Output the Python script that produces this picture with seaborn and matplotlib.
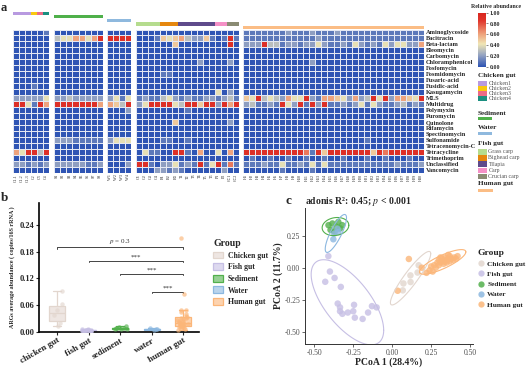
import numpy as np
import pandas as pd
import matplotlib
matplotlib.use('Agg')
import matplotlib.pyplot as plt
import seaborn as sns
from matplotlib.colors import LinearSegmentedColormap, ListedColormap
from matplotlib.patches import Patch, Rectangle
from matplotlib.lines import Line2D

# ---------------- data ----------------
arg_classes = ["Aminoglycoside", "Bacitracin", "Beta-lactam", "Bleomycin", "Carbomycin",
               "Chloramphenicol", "Fosfomycin", "Fosmidomycin", "Fusaric-acid", "Fusidic-acid",
               "Kasugamycin", "MLS", "Multidrug", "Polymyxin", "Puromycin", "Quinolone",
               "Rifamycin", "Spectinomycin", "Sulfonamide", "Tetracenomycin-C", "Tetracycline",
               "Trimethoprim", "Unclassified", "Vancomycin"]

# relative abundance in tenths (digit d -> d/10), one string per ARG class
chicken_abund = ["000001", "000000", "000000", "000000", "000000", "000000", "000000", "000000",
                 "000000", "000100", "000000", "222224", "994196", "000000", "000000", "000000",
                 "000000", "000000", "000000", "000000", "649939", "000000", "221212", "000000"]
sediment_abund = ["00000000", "34466469", "00000000", "00000000", "00000000", "00000000",
                  "00000000", "00000000", "00000000", "00000000", "00000000", "22322222",
                  "99999996", "00000000", "00000000", "00000000", "00000000", "00000000",
                  "22211111", "00000000", "00000000", "00000000", "22222112", "00000000"]
water_abund = ["0000", "9999", "0000", "0000", "0000", "0000", "0000", "0000", "0000", "0000",
               "0000", "2414", "6539", "0002", "0000", "0000", "0000", "0000", "2444", "0000",
               "0000", "0000", "0002", "0000"]
fish_abund = ["00000000000000000", "00015456322510191", "00000050000000090", "00000000000000000",
              "00000000000000000", "00000000002000020", "00000000000000000", "00001100000000000",
              "00000000000000000", "00000000000000000", "00000000000004020", "12113421211221231",
              "24999943995992969", "00000000100000000", "00000000000000000", "00000050000000020",
              "00000000000000000", "00000000000000000", "00001100100000000", "00000000000000000",
              "04110099106004060", "00000000000000000", "99102241219149171", "00022121000000200"]
human_abund = ["11111 11211 12111 21111 11111 11111",
               "11111 11111 11211 11111 11111 11111",
               "22293 31221 22421 12142 12142 44226",
               "00000 00000 00000 00000 00000 00000",
               "00000 00000 00000 00000 00000 00000",
               "00000 00000 02000 00000 00000 00000",
               "00000 00000 00000 00000 00000 00000",
               "00000 00000 00000 00000 00000 00000",
               "00000 00000 00000 00000 00000 00000",
               "00000 00000 00000 00000 00000 00000",
               "00000 00000 00000 00000 00000 00000",
               "54934 32644 92166 54262 39492 66549",
               "23112 19429 19291 12124 14211 23121",
               "00000 00000 00000 00000 00000 00000",
               "00000 00000 00000 00000 00000 00000",
               "00000 00000 00000 00000 00000 00000",
               "00000 00000 00000 00000 00000 00000",
               "00000 00000 00000 00000 00000 00000",
               "00000 00000 00000 00000 10000 00000",
               "00000 00000 00000 00000 00000 00000",
               "99999 99999 71959 99999 95979 99999",
               "01001 00100 10010 01000 10010 00100",
               "11121 14112 14141 11111 11111 21112",
               "00000 01000 01000 00000 00000 00000"]

chicken_samples = ["C1.1", "C1.2", "C1.3", "C2", "C3", "C4"]
sediment_samples = ["S%d" % i for i in range(1, 9)]
water_samples = ["W%d" % i for i in range(1, 5)]
fish_samples = ["G1", "G2", "G3", "G4", "B1", "B2", "B3", "T1", "T2", "T3", "T4", "T5", "T6",
                "P1", "P2", "CC1", "CC2"]
human_samples = ["H%d" % i for i in range(1, 31)]

chicken_sub = ["Chicken1", "Chicken1", "Chicken1", "Chicken2", "Chicken3", "Chicken4"]
fish_sub = ["Grass carp"] * 4 + ["Bighead carp"] * 3 + ["Tilapia"] * 6 + ["Carp"] * 2 + ["Crucian carp"] * 2

sub_colors = {"Chicken1": "#B89AE0", "Chicken2": "#F9C80E", "Chicken3": "#EC6A86",
              "Chicken4": "#1B8F80", "Sediment": "#4FB04A", "Water": "#8FB9DE",
              "Grass carp": "#B5DC8E", "Bighead carp": "#E5870E", "Tilapia": "#5F4B8B",
              "Carp": "#F590C6", "Crucian carp": "#8A8B73", "Human gut": "#FBBD85"}

# panel b: ARGs average abundance per sample
groups_b = ["chicken gut", "fish gut", "sediment", "water", "human gut"]
chicken_arg = [0.012, 0.020, 0.038, 0.048, 0.062, 0.092]
fish_arg = [0.001, 0.002, 0.002, 0.003, 0.003, 0.003, 0.004, 0.004, 0.002, 0.001, 0.005,
            0.003, 0.002, 0.004, 0.003, 0.002, 0.006]
sediment_arg = [0.006, 0.007, 0.008, 0.008, 0.009, 0.010, 0.012, 0.007]
water_arg = [0.004, 0.005, 0.006, 0.008]
human_arg = [0.004, 0.006, 0.008, 0.009, 0.010, 0.011, 0.012, 0.013, 0.015, 0.016, 0.017,
             0.018, 0.019, 0.020, 0.020, 0.021, 0.023, 0.025, 0.026, 0.028, 0.030, 0.031,
             0.033, 0.036, 0.040, 0.044, 0.048, 0.050, 0.085, 0.211]
sig_from = [0, 1, 2, 3]
sig_to = [4, 4, 4, 4]
sig_y = [0.19, 0.16, 0.13, 0.09]
sig_text = [r"$\it{p}$ = 0.3", "***", "***", "***"]

# panel c: PCoA coordinates
legend_groups = ["Chicken gut", "Fish gut", "Sediment", "Water", "Human gut"]
group_colors = ["#E2D6CE", "#C6BFE4", "#52B04C", "#8CB8E0", "#FBB679"]
chicken_pc1 = [0.068, 0.072, 0.118, 0.117, 0.163, 0.170]
chicken_pc2 = [-0.177, -0.123, -0.112, -0.060, -0.038, 0.019]
fish_pc1 = [-0.41, -0.40, -0.43, -0.37, -0.33, -0.35, -0.335, -0.32, -0.25, -0.245, -0.24,
            -0.19, -0.155, -0.13, -0.10, -0.335, -0.285]
fish_pc2 = [0.09, -0.03, -0.11, -0.08, -0.15, -0.28, -0.34, -0.36, -0.34, -0.29, -0.39,
            -0.40, -0.35, -0.30, -0.31, -0.31, -0.35]
sediment_pc1 = [-0.409, -0.384, -0.359, -0.334, -0.321, -0.396, -0.371, -0.346]
sediment_pc2 = [0.332, 0.345, 0.320, 0.307, 0.332, 0.295, 0.282, 0.357]
water_pc1 = [-0.378, -0.372, -0.346, -0.351]
water_pc2 = [0.222, 0.266, 0.278, 0.303]
human_pc1 = [0.22, 0.24, 0.25, 0.26, 0.27, 0.28, 0.29, 0.30, 0.30, 0.31, 0.32, 0.33, 0.33,
             0.34, 0.35, 0.35, 0.36, 0.37, 0.37, 0.38, 0.39, 0.40, 0.41, 0.42, 0.36, 0.34,
             0.31, 0.19, 0.035, 0.107]
human_pc2 = [-0.04, -0.02, 0.01, -0.03, 0.02, 0.00, 0.04, 0.02, 0.06, 0.04, 0.07, 0.05, 0.03,
             0.08, 0.06, 0.04, 0.07, 0.09, 0.05, 0.07, 0.06, 0.08, 0.07, 0.09, 0.10, 0.05,
             0.08, 0.00, -0.18, 0.068]

# ---------------- helpers ----------------
def parse(rows):
    return np.array([[int(c) for c in r.replace(" ", "")] for r in rows]) / 10.0

W, H = 530, 377
sns.set_theme(style="white")
plt.rcParams["font.family"] = ["Liberation Serif", "DejaVu Serif"]
plt.rcParams["mathtext.fontset"] = "stix"
fig = plt.figure(figsize=(5.3, 3.77), dpi=100)

def ax_px(x0, y0, x1, y1):
    return fig.add_axes([x0 / W, 1 - y1 / H, (x1 - x0) / W, (y1 - y0) / H])

def ftext(x, y, s, **kw):
    kw.setdefault("va", "center")
    kw.setdefault("ha", "left")
    fig.text(x / W, 1 - y / H, s, **kw)

def frect(x0, y0, x1, y1, color):
    fig.add_artist(Rectangle((x0 / W, 1 - y1 / H), (x1 - x0) / W, (y1 - y0) / H,
                             transform=fig.transFigure, color=color, lw=0))

cmap = LinearSegmentedColormap.from_list(
    "ab", [(0, "#2F55B4"), (0.22, "#97A5C2"), (0.42, "#F0E6B4"), (0.62, "#EE9C77"),
           (0.85, "#E0362C"), (1, "#D8261E")])

# ---------------- panel a ----------------
blocks = [
    (chicken_abund, chicken_samples, chicken_sub, 13, 49, 12, 15.3),
    (sediment_abund, sediment_samples, ["Sediment"] * 8, 54, 103, 15, 18.3),
    (water_abund, water_samples, ["Water"] * 4, 107, 131, 19, 22.3),
    (fish_abund, fish_samples, fish_sub, 136, 239, 22.3, 25.7),
    (human_abund, human_samples, ["Human gut"] * 30, 243, 424, 26, 29.3),
]
cax = ax_px(478, 12.7, 486, 66.7)
for bi, (rows, samples, subs, x0, x1, ya, yb) in enumerate(blocks):
    mat = pd.DataFrame(parse(rows), index=arg_classes, columns=samples)
    ax = ax_px(x0, 29.5, x1, 172.5)
    last = bi == len(blocks) - 1
    sns.heatmap(mat, ax=ax, cmap=cmap, vmin=0, vmax=1, linewidths=0.45, linecolor="#E4E8F3",
                cbar=last, cbar_ax=cax if last else None,
                xticklabels=samples, yticklabels=arg_classes if last else False)
    ax.tick_params(axis="x", length=0, pad=1, labelsize=3)
    for lab in ax.get_xticklabels():
        lab.set_rotation(90)
    if last:
        ax.yaxis.tick_right()
        ax.tick_params(axis="y", length=0, pad=1.5, labelsize=4.6)
        for lab in ax.get_yticklabels():
            lab.set_rotation(0)
            lab.set_fontweight("bold")
    ax.set_xlabel("")
    ax.set_ylabel("")
    # annotation bar
    levels = list(dict.fromkeys(subs))
    codes = np.array([[levels.index(s) for s in subs]])
    aax = ax_px(x0, ya, x1, yb)
    sns.heatmap(codes, ax=aax, cmap=ListedColormap([sub_colors[l] for l in levels]),
                vmin=-0.5, vmax=len(levels) - 0.5, cbar=False,
                xticklabels=False, yticklabels=False)

cax.set_yticks([0, 0.2, 0.4, 0.6, 0.8, 1.0])
cax.set_yticklabels(["0.00", "0.20", "0.40", "0.60", "0.80", "1.00"])
cax.tick_params(labelsize=4.2, length=1.5, width=0.4, pad=1)
for lab in cax.get_yticklabels():
    lab.set_fontweight("bold")

ftext(471, 6, "Relative abundance", fontsize=4.2, fontweight="bold")
ftext(478, 75.5, "Chicken gut", fontsize=5.2, fontweight="bold")
for i, s in enumerate(["Chicken1", "Chicken2", "Chicken3", "Chicken4"]):
    frect(478, 81.3 + 5 * i, 486.7, 86.1 + 5 * i, sub_colors[s])
    ftext(488.5, 83.7 + 5 * i, s, fontsize=4.2, color="#555555")
ftext(478, 113.5, "Sediment", fontsize=5.2, fontweight="bold")
frect(478, 117.3, 491.7, 120.3, sub_colors["Sediment"])
ftext(478, 127.7, "Water", fontsize=5.2, fontweight="bold")
frect(478, 131.7, 491.7, 134.7, sub_colors["Water"])
ftext(478, 143.5, "Fish gut", fontsize=5.2, fontweight="bold")
for i, s in enumerate(["Grass carp", "Bighead carp", "Tilapia", "Carp", "Crucian carp"]):
    frect(478, 149 + 6.2 * i, 486.7, 154.6 + 6.2 * i, sub_colors[s])
    ftext(488.5, 151.8 + 6.2 * i, s, fontsize=4.2, color="#555555")
ftext(478, 184, "Human gut", fontsize=5.2, fontweight="bold")
frect(478, 189, 492.7, 192, sub_colors["Human gut"])
ftext(1, 8, "a", fontsize=9, fontweight="bold")

# ---------------- panel b ----------------
vals_b = [chicken_arg, fish_arg, sediment_arg, water_arg, human_arg]
df_b = pd.DataFrame({"group": np.repeat(groups_b, [len(v) for v in vals_b]),
                     "value": np.concatenate(vals_b)})
light = []
for c in group_colors:
    rgb = np.array(matplotlib.colors.to_rgb(c))
    light.append(tuple(rgb * 0.6 + 0.4))
axb = ax_px(39, 203, 199, 331.7)
np.random.seed(3)
for i, g in enumerate(groups_b):
    sub = df_b[df_b.group == g]
    sns.boxplot(data=sub, x="group", y="value", order=groups_b, color=light[i],
                linecolor=group_colors[i], width=0.5, showfliers=False, linewidth=0.9,
                saturation=1, ax=axb)
    sns.stripplot(data=sub, x="group", y="value", order=groups_b, color=group_colors[i],
                  alpha=0.65, size=3.2, jitter=0.22, ax=axb, zorder=3)
for a, b, y, t in zip(sig_from, sig_to, sig_y, sig_text):
    axb.plot([a, a, b, b], [y - 0.003, y, y, y - 0.003], color="#444444", lw=0.7)
    axb.text((a + b) / 2, y + 0.002, t, ha="center", va="bottom", fontsize=5, color="#333333")
axb.set_xlim(-0.57, 4.5)
axb.set_ylim(0, 0.29)
axb.set_yticks([0, 0.06, 0.12, 0.18, 0.24])
axb.set_yticklabels(["0.00", "0.06", "0.12", "0.18", "0.24"], fontsize=6, fontweight="bold")
axb.set_xticks(range(5))
axb.set_xticklabels(groups_b, fontsize=6.5, fontweight="bold", rotation=30, ha="right",
                    rotation_mode="anchor")
axb.tick_params(axis="both", length=2, width=0.8, pad=1.5, bottom=True, left=True)
axb.set_xlabel("")
axb.set_ylabel("ARGs average abundance ( copies/16S rRNA )", fontsize=4.4, fontweight="bold",
               labelpad=3)
sns.despine(ax=axb)
for sp in ["left", "bottom"]:
    axb.spines[sp].set_linewidth(1.2)
    axb.spines[sp].set_color("black")
handles_b = [Patch(facecolor=light[i], edgecolor=group_colors[i], lw=0.9) for i in range(5)]
fig.legend(handles_b, legend_groups, title="Group", loc="upper left",
           bbox_to_anchor=(206 / W, 1 - 232 / H), frameon=False, prop={"size": 5.6, "weight": "bold"},
           title_fontproperties={"size": 7, "weight": "bold"}, handlelength=1.3,
           handleheight=1.0, labelspacing=0.45, handletextpad=0.6, alignment="left")
ftext(1, 198, "b", fontsize=9.5, fontweight="bold")

# ---------------- panel c ----------------
pc1 = [chicken_pc1, fish_pc1, sediment_pc1, water_pc1, human_pc1]
pc2 = [chicken_pc2, fish_pc2, sediment_pc2, water_pc2, human_pc2]
df_c = pd.DataFrame({"group": np.repeat(legend_groups, [len(v) for v in pc1]),
                     "PC1": np.concatenate(pc1), "PC2": np.concatenate(pc2)})
axc = ax_px(305, 208, 472.7, 344.3)
sns.scatterplot(data=df_c, x="PC1", y="PC2", hue="group", hue_order=legend_groups,
                palette=group_colors, s=22, alpha=0.8, linewidth=0, legend=False, ax=axc)

def t_ellipse(x, y, level=0.95, nu=5, npts=120, robust=True):
    X = np.column_stack([x, y])
    n = len(X)
    w = np.ones(n)
    loc = X.mean(0)
    if robust:
        for _ in range(25):
            Xc = X - loc
            cov = (w[:, None] * Xc).T @ Xc / n
            Q = np.einsum("ij,jk,ik->i", Xc, np.linalg.inv(cov), Xc)
            w_new = (nu + 2) / (nu + Q)
            loc = (w_new[:, None] * X).sum(0) / w_new.sum()
            done = np.all(np.abs(w_new - w) < 0.01)
            w = w_new
            if done:
                break
        Xc = X - loc
        cov = (w[:, None] * Xc).T @ Xc / n
    else:
        Xc = X - loc
        cov = Xc.T @ Xc / (n - 1)
    dfd = n - 1
    f = dfd / 2 * ((1 - level) ** (-2 / dfd) - 1)
    r = np.sqrt(2 * f)
    th = np.linspace(0, 2 * np.pi, npts)
    circ = np.column_stack([np.cos(th), np.sin(th)])
    pts = loc + r * circ @ np.linalg.cholesky(cov).T
    return pts

for i in range(5):
    e = t_ellipse(np.array(pc1[i]), np.array(pc2[i]), robust=len(pc1[i]) > 4)
    axc.plot(e[:, 0], e[:, 1], color=group_colors[i], lw=0.8)
axc.set_xlim(-0.56, 0.517)
axc.set_ylim(-0.598, 0.466)
axc.set_xticks([-0.5, -0.25, 0, 0.25, 0.5])
axc.set_xticklabels(["-0.50", "-0.25", "0.00", "0.25", "0.50"], fontsize=5.5, color="#4D4D4D")
axc.set_yticks([-0.5, -0.25, 0, 0.25])
axc.set_yticklabels(["-0.50", "-0.25", "0.00", "0.25"], fontsize=5.5, color="#4D4D4D")
axc.tick_params(axis="both", length=2, width=0.6, pad=1.5, bottom=True, left=True, colors="#4D4D4D")
axc.set_xlabel("PCoA 1 (28.4%)", fontsize=7, fontweight="bold", labelpad=0.5)
axc.set_ylabel("PCoA 2 (11.7%)", fontsize=7, fontweight="bold", labelpad=1)
sns.despine(ax=axc)
for sp in ["left", "bottom"]:
    axc.spines[sp].set_linewidth(0.7)
    axc.spines[sp].set_color("#333333")
axc.text(0, 1.05, r"adonis R²: 0.45; $\it{p}$ < 0.001", transform=axc.transAxes,
         fontsize=7, fontweight="bold", ha="left", va="center")
handles_c = [Line2D([], [], marker="o", ls="", markersize=4.5, markerfacecolor=c,
                    markeredgewidth=0, alpha=0.85) for c in group_colors]
fig.legend(handles_c, legend_groups, title="Group", loc="upper left",
           bbox_to_anchor=(471 / W, 1 - 242 / H), frameon=False, prop={"size": 5.3, "weight": "bold"},
           title_fontproperties={"size": 6.8, "weight": "bold"}, handlelength=0.9,
           labelspacing=0.55, handletextpad=0.4, alignment="left")
ftext(285, 201, "c", fontsize=9.5, fontweight="bold")

fig.savefig("out.png", dpi=100)
